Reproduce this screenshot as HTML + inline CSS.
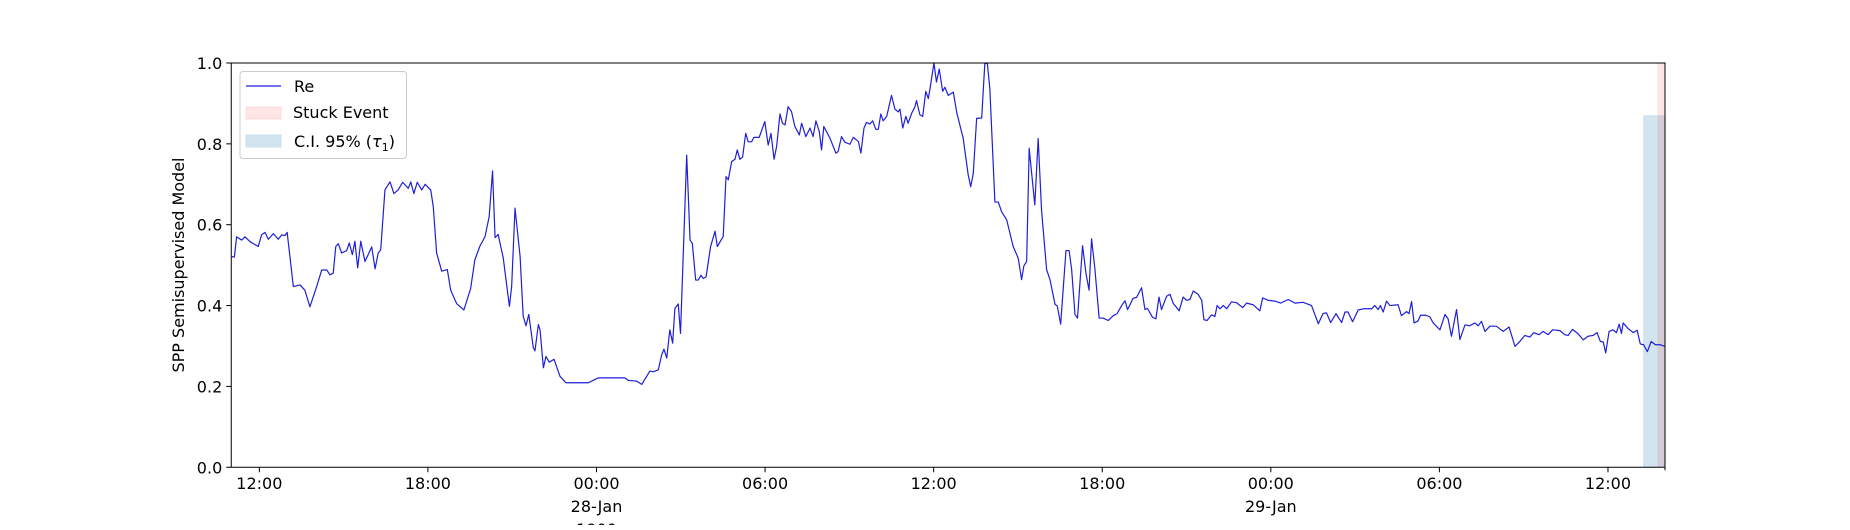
<!DOCTYPE html>
<html><head><meta charset="utf-8">
<style>
html,body{margin:0;padding:0;background:#fff;}
svg text{font-family:"DejaVu Sans","Liberation Sans",sans-serif;fill:#000;}
</style></head>
<body>
<svg id="chart" width="1850" height="525" viewBox="0 0 1850 525" xmlns="http://www.w3.org/2000/svg">
<rect width="1850" height="525" fill="#fff"/>
<g id="shades"></g>
<g id="series"></g>
<g id="axes"></g>
<text transform="translate(184,265) rotate(-90)" text-anchor="middle" font-size="16">SPP Semisupervised Model</text>
<g>
<rect x="240" y="71.5" width="166.5" height="87" rx="3" fill="#fff" fill-opacity="0.8" stroke="#ccc" stroke-width="1"/>
<line x1="246" y1="86" x2="281" y2="86" stroke="#1f1fd8" stroke-width="1.3"/>
<text x="294" y="92" font-size="16">Re</text>
<rect x="246" y="107" width="35" height="12" fill="#ffe5e5" stroke="#ffd6d6" stroke-width="0.8"/>
<text x="293" y="118" font-size="16">Stuck Event</text>
<rect x="246" y="135" width="35" height="12" fill="#d2e4f0" stroke="#c3d9ea" stroke-width="0.8"/>
<text x="294" y="147" font-size="16">C.I. 95% (<tspan font-style="italic">τ</tspan><tspan font-size="11" dy="4">1</tspan><tspan dy="-4">)</tspan></text>
</g>
</svg>
<script>
// hours since 27-Jan 00:00
const times = [11.02,11.11,11.19,11.37,11.49,11.67,11.96,12.08,12.2,12.32,12.5,12.67,12.8,12.91,12.99,13.21,13.45,13.62,13.8,14.04,14.22,14.4,14.51,14.63,14.72,14.81,14.93,15.11,15.2,15.31,15.4,15.5,15.61,15.76,16.0,16.12,16.23,16.32,16.47,16.65,16.79,16.94,17.1,17.3,17.39,17.5,17.62,17.78,17.9,18.1,18.19,18.31,18.49,18.69,18.81,19.02,19.28,19.52,19.67,19.85,20.03,20.18,20.3,20.39,20.5,20.68,20.9,20.98,21.1,21.28,21.39,21.49,21.59,21.75,21.81,21.93,21.99,22.11,22.2,22.32,22.49,22.7,22.91,23.71,24.06,25.01,25.13,25.43,25.61,25.9,26.02,26.2,26.32,26.4,26.5,26.61,26.71,26.79,26.91,26.99,27.21,27.33,27.41,27.53,27.62,27.72,27.8,27.9,28.06,28.22,28.3,28.51,28.61,28.69,28.81,28.93,29.01,29.1,29.2,29.31,29.4,29.52,29.6,29.79,29.99,30.11,30.21,30.32,30.41,30.53,30.62,30.71,30.82,30.94,31.06,31.22,31.3,31.45,31.6,31.71,31.81,31.93,32.01,32.09,32.31,32.52,32.6,32.72,32.84,33.02,33.14,33.32,33.41,33.52,33.61,33.73,33.83,33.94,34.03,34.12,34.2,34.33,34.5,34.62,34.74,34.8,34.9,35.01,35.09,35.22,35.33,35.39,35.51,35.61,35.72,35.81,35.89,36.01,36.1,36.2,36.32,36.4,36.52,36.7,36.82,37.05,37.23,37.32,37.41,37.53,37.71,37.82,37.91,38.0,38.18,38.3,38.42,38.6,38.83,39.01,39.13,39.21,39.31,39.4,39.6,39.72,39.84,40.02,40.14,40.32,40.4,40.52,40.71,40.82,40.91,41.03,41.12,41.3,41.42,41.53,41.62,41.74,41.89,42.03,42.21,42.39,42.53,42.69,42.81,42.9,43.1,43.22,43.4,43.52,43.61,43.79,43.91,44.02,44.11,44.29,44.41,44.53,44.74,44.88,45.0,45.12,45.24,45.41,45.54,45.62,45.73,45.89,46.01,46.09,46.19,46.31,46.43,46.6,46.78,47.0,47.14,47.37,47.61,47.71,47.91,48.15,48.35,48.62,48.86,49.15,49.45,49.69,49.86,49.98,50.13,50.32,50.52,50.64,50.75,50.91,51.11,51.29,51.59,51.7,51.82,51.9,52.0,52.12,52.24,52.53,52.65,52.83,52.92,53.01,53.1,53.24,53.33,53.52,53.66,53.78,54.02,54.2,54.31,54.43,54.61,54.73,54.91,55.08,55.26,55.38,55.5,55.62,55.8,56.03,56.27,56.48,56.69,56.86,57.04,57.22,57.36,57.55,57.69,57.87,58.03,58.29,58.46,58.58,58.74,58.94,59.12,59.29,59.47,59.61,59.73,59.83,59.92,60.04,60.18,60.3,60.4,60.48,60.54,60.72,60.9,61.04,61.15,61.27,61.4,61.54,61.69,61.87,62.03];
const reValues = [0.521,0.52,0.570,0.562,0.570,0.558,0.546,0.575,0.581,0.564,0.578,0.564,0.575,0.573,0.581,0.447,0.451,0.438,0.397,0.447,0.488,0.488,0.476,0.480,0.546,0.553,0.530,0.536,0.555,0.526,0.559,0.493,0.559,0.509,0.545,0.491,0.53,0.538,0.686,0.706,0.677,0.686,0.705,0.690,0.706,0.677,0.705,0.686,0.700,0.686,0.645,0.530,0.485,0.489,0.438,0.405,0.389,0.442,0.513,0.547,0.570,0.620,0.733,0.568,0.576,0.518,0.398,0.447,0.641,0.522,0.374,0.35,0.378,0.296,0.288,0.353,0.34,0.246,0.274,0.26,0.267,0.225,0.209,0.209,0.221,0.221,0.215,0.213,0.205,0.238,0.236,0.241,0.278,0.292,0.270,0.340,0.307,0.393,0.404,0.331,0.772,0.562,0.554,0.463,0.463,0.475,0.467,0.471,0.546,0.584,0.546,0.571,0.719,0.711,0.756,0.762,0.785,0.762,0.767,0.826,0.805,0.805,0.816,0.816,0.855,0.797,0.826,0.762,0.793,0.874,0.851,0.847,0.892,0.88,0.843,0.822,0.851,0.818,0.839,0.818,0.857,0.830,0.785,0.843,0.814,0.777,0.781,0.818,0.804,0.799,0.816,0.806,0.777,0.839,0.853,0.849,0.857,0.836,0.836,0.874,0.857,0.868,0.92,0.886,0.879,0.886,0.839,0.868,0.851,0.876,0.891,0.907,0.872,0.868,0.93,0.912,0.945,1.0,0.953,0.985,0.93,0.94,0.92,0.928,0.878,0.814,0.723,0.694,0.727,0.863,0.864,0.998,1.0,0.936,0.656,0.656,0.632,0.612,0.546,0.517,0.464,0.498,0.509,0.789,0.649,0.813,0.636,0.489,0.464,0.403,0.399,0.354,0.536,0.536,0.49,0.378,0.369,0.548,0.48,0.438,0.565,0.49,0.369,0.369,0.363,0.375,0.38,0.400,0.412,0.39,0.418,0.42,0.444,0.39,0.393,0.371,0.367,0.421,0.39,0.423,0.428,0.405,0.387,0.421,0.413,0.415,0.436,0.428,0.413,0.365,0.363,0.377,0.373,0.400,0.392,0.400,0.392,0.409,0.407,0.395,0.406,0.402,0.387,0.419,0.413,0.411,0.406,0.415,0.406,0.408,0.400,0.355,0.38,0.382,0.358,0.38,0.358,0.384,0.384,0.36,0.389,0.392,0.392,0.400,0.39,0.400,0.384,0.411,0.400,0.402,0.375,0.385,0.380,0.410,0.357,0.362,0.376,0.376,0.372,0.357,0.340,0.378,0.367,0.324,0.390,0.316,0.352,0.350,0.357,0.350,0.361,0.336,0.349,0.349,0.336,0.347,0.299,0.311,0.326,0.322,0.333,0.328,0.336,0.328,0.340,0.338,0.328,0.326,0.341,0.33,0.315,0.324,0.326,0.333,0.311,0.310,0.283,0.336,0.340,0.333,0.354,0.331,0.357,0.343,0.333,0.339,0.305,0.303,0.286,0.311,0.303,0.303,0.299];
const ciStart = [61.25];
const ciTop = [0.871];
const stuckStart = [61.76];
const xTickHours = [12,18,24,30,36,42,48,54,60];
const xTickLabels = ["12:00","18:00","00:00","06:00","12:00","18:00","00:00","06:00","12:00"];
const xTickSub = ["","","28-Jan","","","","29-Jan","",""];
const yTicks = [0,0.2,0.4,0.6,0.8,1.0];
const yTickLabels = ["0.0","0.2","0.4","0.6","0.8","1.0"];

const X0=231.25,X1=1665,Y0=467.25,Y1=63;
const HMIN=11.0,HMAX=62.03;
const NS='http://www.w3.org/2000/svg';
function sx(h){return X0+(h-HMIN)/(HMAX-HMIN)*(X1-X0);}
function sy(v){return Y0-v*(Y0-Y1);}
function mk(tag,attrs,parent){const e=document.createElementNS(NS,tag);for(const k in attrs)e.setAttribute(k,attrs[k]);parent.appendChild(e);return e;}

const shades=document.getElementById('shades');
ciStart.forEach((h,i)=>{
  const r=mk('rect',{x:sx(h),y:sy(ciTop[i]),width:X1-sx(h),height:sy(0)-sy(ciTop[i]),fill:'#1f77b4','fill-opacity':0.2},shades);
  
  
});
stuckStart.forEach((h)=>{
  const r=mk('rect',{x:sx(h),y:Y1,width:X1-sx(h),height:Y0-Y1,fill:'#ff0000','fill-opacity':0.1},shades);
  
  
});

const series=document.getElementById('series');
let d='';
times.forEach((t,i)=>{d+=(i?'L':'M')+sx(t).toFixed(2)+','+sy(reValues[i]).toFixed(2);});
const line=mk('path',{d:d,fill:'none',stroke:'#1f1fd8','stroke-width':1.2,'stroke-linejoin':'round'},series);



const axes=document.getElementById('axes');
const frame=mk('rect',{x:X0,y:Y1,width:X1-X0,height:Y0-Y1,fill:'none',stroke:'#000','stroke-width':1},axes);


yTicks.forEach((v,i)=>{
  const y=sy(v);
  const tk=mk('line',{x1:X0-5,x2:X0,y1:y,y2:y,stroke:'#000','stroke-width':1},axes);
  
  
  const tx=mk('text',{x:X0-9,y:y+6,'text-anchor':'end','font-size':16},axes);
  tx.textContent=yTickLabels[i];
  
  
});
xTickHours.forEach((h,i)=>{
  const x=sx(h);
  const tk=mk('line',{x1:x,x2:x,y1:Y0,y2:Y0+5,stroke:'#000','stroke-width':1},axes);
  
  
  const tx=mk('text',{x:x,y:489,'text-anchor':'middle','font-size':16},axes);
  tx.textContent=xTickLabels[i];
  
  
  if(xTickSub[i]){
    const s=mk('text',{x:x,y:512,'text-anchor':'middle','font-size':16},axes);
    s.textContent=xTickSub[i];
    
    
  }
});
// minor ticks (edge tick at right end)
const et=mk('line',{x1:X1,x2:X1,y1:Y0,y2:Y0+3,stroke:'#000','stroke-width':1},axes);


const yr=mk('text',{x:sx(24),y:535,'text-anchor':'middle','font-size':16},axes);
yr.textContent='1900';


</script>
</body></html>
